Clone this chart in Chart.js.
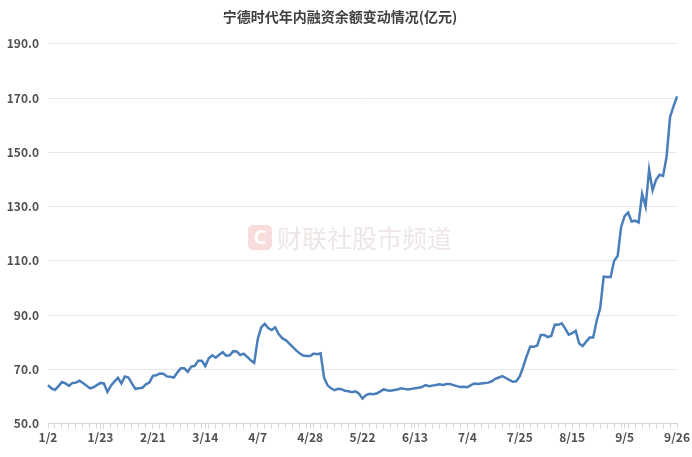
<!DOCTYPE html>
<html>
<head>
<meta charset="utf-8">
<script src="https://cdn.jsdelivr.net/npm/chart.js@4/dist/chart.umd.min.js"></script>
<style>
html,body{margin:0;padding:0;background:#fff;}
canvas{display:block;}
</style>
</head>
<body>
<canvas id="c" width="692" height="457"></canvas>
<script>
const chartTitle = '宁德时代年内融资余额变动情况(亿元)';
const watermarkText = '财联社股市频道';

// trading days (2025), 1/2 .. 9/26
const categories = [
'1/2','1/3','1/6','1/7','1/8','1/9','1/10','1/13','1/14','1/15','1/16','1/17','1/20','1/21','1/22','1/23','1/24','1/27',
'2/5','2/6','2/7','2/10','2/11','2/12','2/13','2/14','2/17','2/18','2/19','2/20','2/21','2/24','2/25','2/26','2/27','2/28',
'3/3','3/4','3/5','3/6','3/7','3/10','3/11','3/12','3/13','3/14','3/17','3/18','3/19','3/20','3/21','3/24','3/25','3/26','3/27','3/28','3/31',
'4/1','4/2','4/3','4/7','4/8','4/9','4/10','4/11','4/14','4/15','4/16','4/17','4/18','4/21','4/22','4/23','4/24','4/25','4/28','4/29','4/30',
'5/6','5/7','5/8','5/9','5/12','5/13','5/14','5/15','5/16','5/19','5/20','5/21','5/22','5/23','5/26','5/27','5/28','5/29','5/30',
'6/3','6/4','6/5','6/6','6/9','6/10','6/11','6/12','6/13','6/16','6/17','6/18','6/19','6/20','6/23','6/24','6/25','6/26','6/27','6/30',
'7/1','7/2','7/3','7/4','7/7','7/8','7/9','7/10','7/11','7/14','7/15','7/16','7/17','7/18','7/21','7/22','7/23','7/24','7/25','7/28','7/29','7/30','7/31',
'8/1','8/4','8/5','8/6','8/7','8/8','8/11','8/12','8/13','8/14','8/15','8/18','8/19','8/20','8/21','8/22','8/25','8/26','8/27','8/28','8/29',
'9/1','9/2','9/3','9/4','9/5','9/8','9/9','9/10','9/11','9/12','9/15','9/16','9/17','9/18','9/19','9/22','9/23','9/24','9/25','9/26'
];

// margin balance (亿元)
const marginBalance = [
64.2,63.0,62.4,63.8,65.3,64.8,63.9,65.0,65.1,65.8,65.0,64.0,63.0,63.4,64.2,65.0,64.8,61.7,
64.0,65.5,66.9,64.8,67.4,67.0,64.8,62.8,63.0,63.2,64.5,65.1,67.6,67.8,68.5,68.4,67.4,67.3,
67.0,68.8,70.4,70.4,69.1,71.0,71.3,73.2,73.2,71.2,74.1,75.2,74.3,75.4,76.3,75.0,75.2,76.7,76.6,75.3,75.8,
74.6,73.3,72.4,81.0,85.5,86.8,85.2,84.5,85.5,83.0,81.5,80.8,79.6,78.3,77.0,75.9,75.1,74.9,74.9,75.8,75.6,
75.9,66.9,64.1,63.0,62.3,62.8,62.7,62.1,61.9,61.6,61.9,61.0,59.2,60.5,61.0,60.8,61.1,61.8,62.6,
62.3,62.1,62.4,62.6,63.0,62.8,62.6,62.8,63.0,63.2,63.5,64.2,63.8,64.0,64.2,64.5,64.2,64.6,64.6,64.2,
63.8,63.5,63.6,63.4,64.2,64.8,64.6,64.8,65.0,65.1,65.6,66.5,67.0,67.5,66.8,66.1,65.4,65.6,67.5,71.0,75.0,78.4,78.3,
78.8,82.7,82.7,81.9,82.3,86.4,86.4,87.0,85.0,82.8,83.3,84.2,79.5,78.6,80.2,81.7,81.7,87.9,92.5,104.2,104.0,
104.0,110.0,111.8,122.5,126.5,127.8,124.5,124.8,124.1,134.7,130.0,143.6,136.0,139.9,141.7,141.3,148.4,163.0,167.0,170.6
];

const yMin = 50, yMax = 190, yStep = 20;
const labelEvery = 15;

const watermark = {
  id: 'watermark',
  beforeDatasetsDraw(chart) {
    const ctx = chart.ctx;
    ctx.save();
    const x = 248, y = 225;
    ctx.fillStyle = 'rgba(236,150,150,0.32)';
    ctx.beginPath();
    ctx.roundRect(x, y, 24, 25, 5);
    ctx.fill();
    ctx.fillStyle = 'rgba(255,255,255,0.95)';
    ctx.font = 'bold 20px "Noto Sans"';
    ctx.textAlign = 'center';
    ctx.textBaseline = 'middle';
    ctx.fillText('C', x + 12, y + 13);
    ctx.fillStyle = 'rgba(200,170,170,0.30)';
    ctx.font = '25px "Noto Sans CJK SC"';
    ctx.textAlign = 'left';
    ctx.fillText(watermarkText, 277, 238);
    ctx.restore();
  }
};

new Chart(document.getElementById('c'), {
  type: 'line',
  data: {
    labels: categories,
    datasets: [{
      data: marginBalance,
      borderColor: '#4a7ebb',
      borderWidth: 2.5,
      pointRadius: 0,
      tension: 0,
      fill: false
    }]
  },
  options: {
    responsive: false,
    devicePixelRatio: 1,
    animation: false,
    layout: { padding: { left: 0, right: 12, top: 0, bottom: 10 } },
    plugins: {
      legend: { display: false },
      tooltip: { enabled: false },
      title: {
        display: true,
        text: chartTitle,
        color: '#404040',
        font: { family: '"Noto Sans CJK SC"', size: 14, weight: 'bold' },
        padding: { top: 8, bottom: 19 }
      }
    },
    scales: {
      x: {
        offset: false,
        grid: { drawOnChartArea: false, drawTicks: true, tickLength: 5, color: '#d6d6d6' },
        border: { color: '#d6d6d6' },
        ticks: {
          autoSkip: false, maxRotation: 0, minRotation: 0, padding: 2,
          color: '#505050',
          font: { family: '"Noto Sans CJK SC"', size: 12, weight: 'bold' },
          callback: function(v, i) {
            if (i % labelEvery === 0) return categories[i];
            if (i % 2 === 0) return '';
            return null;
          }
        }
      },
      y: {
        min: yMin, max: yMax,
        afterFit(scale) { scale.width = 48; },
        grid: { color: '#e8e8e8', drawTicks: false },
        border: { display: false },
        ticks: {
          stepSize: yStep, padding: 9,
          color: '#505050',
          font: { family: '"Noto Sans CJK SC"', size: 12, weight: 'bold' },
          callback: v => v.toFixed(1)
        }
      }
    }
  },
  plugins: [watermark]
});
</script>
</body>
</html>
